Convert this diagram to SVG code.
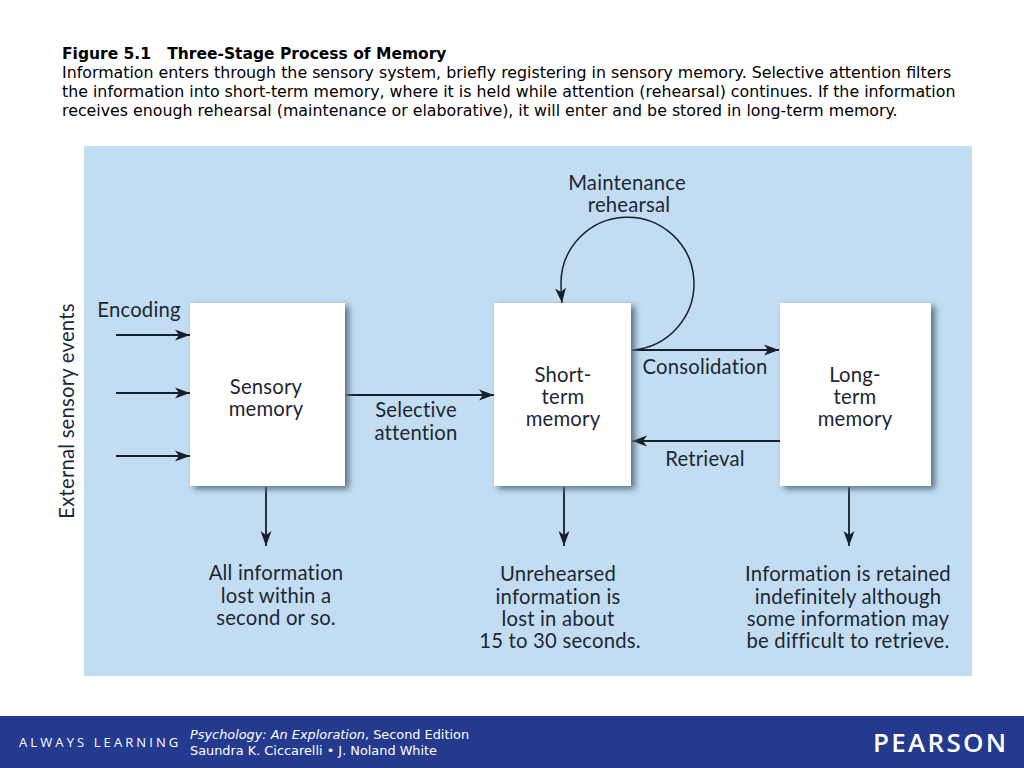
<svg xmlns="http://www.w3.org/2000/svg" width="1024" height="768" viewBox="0 0 1024 768">
<style>
.h{font-family:"DejaVu Sans",Verdana,sans-serif;font-size:15.82px;fill:#000}
.b{font-size:15.5px;font-weight:bold}
.l{font-family:Lato,"Open Sans",sans-serif;font-size:20.3px;letter-spacing:.2px;fill:#1c2733;text-anchor:middle;font-variant-ligatures:none}
.box{fill:#fff}
.sh{fill:#5a7186}
.c{fill:none;stroke:#17202b;stroke-width:1.8}
.f{font-family:"DejaVu Sans",Verdana,sans-serif;font-size:12.86px;fill:#fff}
</style>
<defs>
<marker id="a" markerUnits="userSpaceOnUse" markerWidth="16" markerHeight="12" refX="15" refY="6" orient="auto"><path d="M0 0.5L15 6L0 11.5L4 6Z" fill="#17202b"/></marker>
<filter id="s" x="-20%" y="-20%" width="140%" height="140%"><feGaussianBlur stdDeviation="3"/></filter>
</defs>
<rect width="1024" height="768" fill="#fff"/>
<g id="caption">
<text class="h b" x="62" y="59" xml:space="preserve">Figure 5.1   Three-Stage Process of Memory</text>
<text class="h" x="62" y="77.5">Information enters through the sensory system, briefly registering in sensory memory. Selective attention filters</text>
<text class="h" x="62" y="96.5">the information into short-term memory, where it is held while attention (rehearsal) continues. If the information</text>
<text class="h" x="62" y="115.5">receives enough rehearsal (maintenance or elaborative), it will enter and be stored in long-term memory.</text>
</g>
<rect id="panel" x="84" y="146" width="888" height="530" fill="#c2ddf1"/>
<g id="connectors">
<path class="c" marker-end="url(#a)" d="M116 335H190"/>
<path class="c" marker-end="url(#a)" d="M116 393H190"/>
<path class="c" marker-end="url(#a)" d="M116 456H190"/>
<path class="c" marker-end="url(#a)" d="M345 395H494"/>
<path class="c" marker-end="url(#a)" d="M632 350H779"/>
<path class="c" marker-end="url(#a)" d="M780 441H632"/>
<path class="c" style="stroke-width:1.5" marker-end="url(#a)" d="M632 350A66.5 66.5 0 1 0 561 285Q561 293 562 303"/>
<path class="c" marker-end="url(#a)" d="M266 487V546"/>
<path class="c" marker-end="url(#a)" d="M564 487V546"/>
<path class="c" marker-end="url(#a)" d="M849 487V546"/>
</g>
<g id="sensory-memory">
<rect class="sh" x="194" y="306" width="155" height="183" filter="url(#s)"/>
<rect class="box" x="190" y="303" width="155" height="183"/>
<text class="l" x="266" y="394">Sensory</text>
<text class="l" x="266" y="416">memory</text>
</g>
<g id="short-term-memory">
<rect class="sh" x="498" y="306" width="137" height="183" filter="url(#s)"/>
<rect class="box" x="494" y="303" width="137" height="183"/>
<text class="l" x="563" y="382">Short-</text>
<text class="l" x="563" y="404">term</text>
<text class="l" x="563" y="426">memory</text>
</g>
<g id="long-term-memory">
<rect class="sh" x="784" y="306" width="151" height="183" filter="url(#s)"/>
<rect class="box" x="780" y="303" width="151" height="183"/>
<text class="l" x="855" y="382">Long-</text>
<text class="l" x="855" y="404">term</text>
<text class="l" x="855" y="426">memory</text>
</g>
<g id="labels">
<text class="l" x="139" y="317">Encoding</text>
<text class="l" transform="translate(74 411) rotate(-90)">External sensory events</text>
<text class="l" x="627" y="190">Maintenance</text>
<text class="l" x="629" y="212">rehearsal</text>
<text class="l" x="705" y="374">Consolidation</text>
<text class="l" x="705" y="466">Retrieval</text>
<text class="l" x="416" y="417">Selective</text>
<text class="l" x="416" y="440">attention</text>
<text class="l" x="276" y="580">All information</text>
<text class="l" x="276" y="603">lost within a</text>
<text class="l" x="276" y="625">second or so.</text>
<text class="l" x="558" y="581">Unrehearsed</text>
<text class="l" x="558" y="604">information is</text>
<text class="l" x="558" y="626">lost in about</text>
<text class="l" x="560" y="648">15 to 30 seconds.</text>
<text class="l" x="848" y="581">Information is retained</text>
<text class="l" x="848" y="604">indefinitely although</text>
<text class="l" x="848" y="626">some information may</text>
<text class="l" x="848" y="648">be difficult to retrieve.</text>
</g>
<g id="footer">
<rect x="0" y="716" width="1024" height="52" fill="#233a8e"/>
<text x="19" y="747" font-family="'Open Sans','Noto Sans',sans-serif" font-size="13px" letter-spacing="3.1" fill="#fff">ALWAYS LEARNING</text>
<text class="f" x="190" y="739"><tspan font-style="italic">Psychology: An Exploration</tspan>, Second Edition</text>
<text class="f" x="190" y="755">Saundra K. Ciccarelli • J. Noland White</text>
<text x="873" y="752" font-family="'Open Sans','Noto Sans',sans-serif" font-size="26px" font-weight="600" letter-spacing="2.3" fill="#fff">PEARSON</text>
</g>
</svg>
